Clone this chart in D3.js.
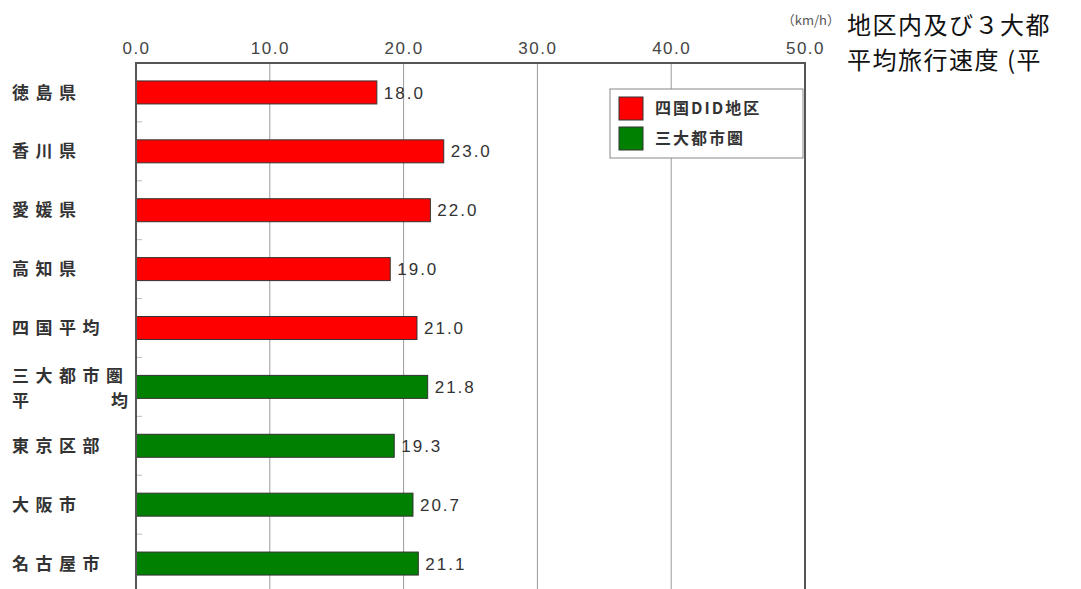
<!DOCTYPE html>
<html>
<head>
<meta charset="utf-8">
<script src="https://cdn.jsdelivr.net/npm/d3@7/dist/d3.min.js"></script>
<style>
  html, body { margin: 0; padding: 0; background: #fff; }
  svg { display: block; }
  text { font-family: "Noto Sans CJK JP", "Noto Sans", sans-serif; }
</style>
</head>
<body>
<svg id="chart" width="1081" height="589"></svg>
<script>
// Average travel speed by area (km/h)
const categories = ["徳島県", "香川県", "愛媛県", "高知県", "四国平均", "三大都市圏平均", "東京区部", "大阪市", "名古屋市"];
const speeds = [18.0, 23.0, 22.0, 19.0, 21.0, 21.8, 19.3, 20.7, 21.1];
const groups = ["shikoku", "shikoku", "shikoku", "shikoku", "shikoku", "metro", "metro", "metro", "metro"];
const legendLabels = ["四国DID地区", "三大都市圏"];
const xTicks = [0, 10, 20, 30, 40, 50];
const titleLines = ["地区内及び３大都", "平均旅行速度 (平"];
const unitLabel = "（km/h）";

const colors = { shikoku: "#ff0000", metro: "#008000" };
const numFont = "'Liberation Sans', 'DejaVu Sans', sans-serif";

const svg = d3.select("#chart");
const m = { left: 136, top: 63, right: 805, bottom: 593 };

const x = d3.scaleLinear().domain([0, 50]).range([m.left, m.right]);
const yBand = d3.scaleBand().domain(categories).range([m.top, m.bottom]);
const barH = 23;

// vertical gridlines
svg.append("g").selectAll("line")
  .data(xTicks.filter(d => d > 0 && d < 50))
  .join("line")
  .attr("x1", d => x(d)).attr("x2", d => x(d))
  .attr("y1", m.top).attr("y2", m.bottom)
  .attr("stroke", "#9a9a9a").attr("stroke-width", 1);

// top axis labels
const xAxis = d3.axisTop(x).tickValues(xTicks).tickFormat(d3.format(".1f")).tickSize(0).tickPadding(9);
const gx = svg.append("g").attr("transform", `translate(0,${m.top})`).call(xAxis);
gx.select(".domain").remove();
gx.selectAll("text")
  .attr("font-size", 17).attr("fill", "#444").attr("letter-spacing", "1.5px")
  .style("font-family", numFont);

// small ticks at band boundaries along the left axis
svg.append("g").selectAll("line")
  .data(categories.slice(1))
  .join("line")
  .attr("x1", m.left).attr("x2", m.left + 6)
  .attr("y1", d => yBand(d)).attr("y2", d => yBand(d))
  .attr("stroke", "#bbb").attr("stroke-width", 1);

// bars
svg.append("g").selectAll("rect")
  .data(categories)
  .join("rect")
  .attr("x", x(0))
  .attr("y", d => yBand(d) + yBand.bandwidth() / 2 - barH / 2)
  .attr("width", (d, i) => x(speeds[i]) - x(0))
  .attr("height", barH)
  .attr("fill", (d, i) => colors[groups[i]])
  .attr("stroke", "#333").attr("stroke-width", 1);

// value labels
svg.append("g").selectAll("text")
  .data(categories)
  .join("text")
  .attr("x", (d, i) => x(speeds[i]) + 7)
  .attr("y", d => yBand(d) + yBand.bandwidth() / 2)
  .attr("dy", "0.36em")
  .attr("font-size", 17).attr("fill", "#333").attr("letter-spacing", "2px")
  .style("font-family", numFont)
  .text((d, i) => speeds[i].toFixed(1));

// plot frame: left axis, top and right edges
svg.append("path")
  .attr("d", `M${m.left},${m.bottom} V${m.top} H${m.right} V${m.bottom}`)
  .attr("fill", "none").attr("stroke", "#555").attr("stroke-width", 2);

// category labels
const catG = svg.append("g");
const labelStyle = sel => sel.attr("font-size", 17).attr("font-weight", "bold").attr("fill", "#333");
categories.forEach(c => {
  const cy = yBand(c) + yBand.bandwidth() / 2;
  if (c === "三大都市圏平均") {
    // two-line label: first line spaced out, second line justified to both ends
    catG.append("text").attr("x", 12).attr("y", cy - 11).attr("dy", "0.36em")
      .call(labelStyle).attr("letter-spacing", "6.5px").text("三大都市圏");
    const t = catG.append("text").call(labelStyle);
    t.append("tspan").attr("x", 12).attr("y", cy + 14).attr("dy", "0.36em").text("平");
    t.append("tspan").attr("x", 111).attr("y", cy + 14).attr("dy", "0.36em").text("均");
  } else {
    catG.append("text").attr("x", 12).attr("y", cy).attr("dy", "0.36em")
      .call(labelStyle).attr("letter-spacing", "6.5px").text(c);
  }
});

// legend
const lg = svg.append("g").attr("transform", "translate(610,89)");
lg.append("rect").attr("width", 193).attr("height", 69)
  .attr("fill", "#fff").attr("stroke", "#888").attr("stroke-width", 1);
legendLabels.forEach((l, i) => {
  const row = lg.append("g").attr("transform", `translate(9,${8 + i * 30})`);
  row.append("rect").attr("width", 24).attr("height", 23)
    .attr("fill", colors[i === 0 ? "shikoku" : "metro"]).attr("stroke", "#333");
  row.append("text").attr("x", 36).attr("y", 11.5).attr("dy", "0.36em")
    .attr("font-size", 16).attr("font-weight", "bold").attr("fill", "#333").attr("letter-spacing", "2px")
    .text(l);
});

// unit label
svg.append("text").attr("x", 840).attr("y", 25).attr("text-anchor", "end")
  .attr("font-size", 13).attr("fill", "#555").text(unitLabel);

// title block (runs off the right edge)
titleLines.forEach((t, i) => {
  svg.append("text").attr("x", 847).attr("y", 34 + i * 35)
    .attr("font-size", 24).attr("letter-spacing", "1.5px").attr("fill", "#111").text(t);
});
</script>
</body>
</html>
